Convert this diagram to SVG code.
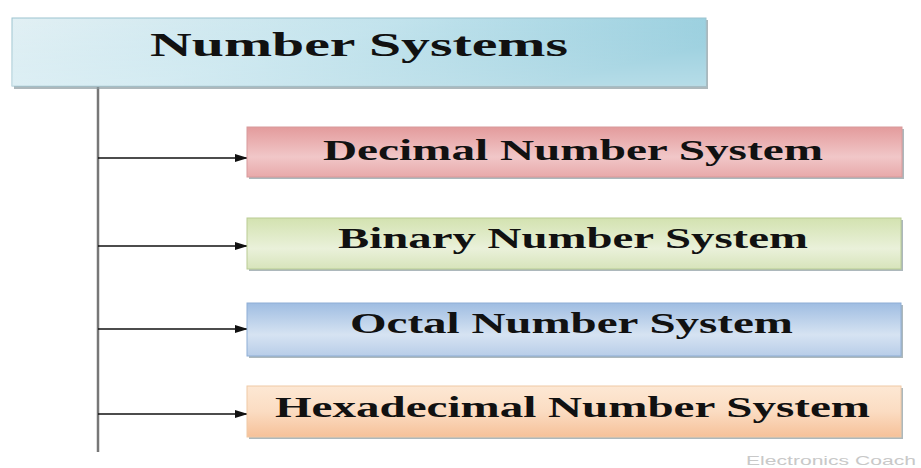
<svg xmlns="http://www.w3.org/2000/svg" width="921" height="468" viewBox="0 0 921 468">
<style>
.lbl{font-family:"Liberation Serif","Times New Roman",serif;font-weight:bold;fill:#111;}
.conn{stroke:#111;stroke-width:1.5;fill:none;}
.shadow{fill:#8a9aa0;opacity:0.7;}
</style>
<defs>
<marker id="ah" markerWidth="13" markerHeight="8" refX="12" refY="4" orient="auto" markerUnits="userSpaceOnUse">
<path d="M0,0 L13,4 L0,8 Z" fill="#111"/>
</marker>
<linearGradient id="gTitle" x1="0" y1="0" x2="1" y2="0.4">
<stop offset="0" stop-color="#e2f0f4"/>
<stop offset="0.5" stop-color="#c0e2ec"/>
<stop offset="1" stop-color="#8fcadb"/>
</linearGradient>
<linearGradient id="gTitleV" x1="0" y1="0" x2="0" y2="1">
<stop offset="0" stop-color="#ffffff" stop-opacity="0"/>
<stop offset="1" stop-color="#ffffff" stop-opacity="0.35"/>
</linearGradient>
<linearGradient id="gDec" x1="0" y1="0" x2="0" y2="1">
<stop offset="0" stop-color="#e39b9c"/>
<stop offset="0.6" stop-color="#f1c7c8"/>
<stop offset="1" stop-color="#e8a9aa"/>
</linearGradient>
<linearGradient id="gBin" x1="0" y1="0" x2="0" y2="1">
<stop offset="0" stop-color="#d3e2b0"/>
<stop offset="0.6" stop-color="#eaf1da"/>
<stop offset="1" stop-color="#d7e4bb"/>
</linearGradient>
<linearGradient id="gOct" x1="0" y1="0" x2="0" y2="1">
<stop offset="0" stop-color="#9fbde2"/>
<stop offset="0.6" stop-color="#d6e3f2"/>
<stop offset="1" stop-color="#b8cde8"/>
</linearGradient>
<linearGradient id="gHex" x1="0" y1="0" x2="0" y2="1">
<stop offset="0" stop-color="#fde8d4"/>
<stop offset="0.5" stop-color="#fbdcc2"/>
<stop offset="1" stop-color="#f6c199"/>
</linearGradient>
</defs>
<rect width="921" height="468" fill="#ffffff"/>

<g id="connectors">
<line x1="98" y1="87" x2="98" y2="452" stroke="#777" stroke-width="2.5"/>
<line class="conn" x1="98" y1="158" x2="247" y2="158" marker-end="url(#ah)"/>
<line class="conn" x1="98" y1="246" x2="247" y2="246" marker-end="url(#ah)"/>
<line class="conn" x1="98" y1="329" x2="247" y2="329" marker-end="url(#ah)"/>
<line class="conn" x1="98" y1="414" x2="247" y2="414" marker-end="url(#ah)"/>
</g>

<g id="title">
<rect class="shadow" x="14" y="20" width="694" height="69"/>
<rect x="12" y="18" width="694" height="68" fill="url(#gTitle)" stroke="#9cc4d0" stroke-width="1"/>
<rect x="12" y="18" width="694" height="68" fill="url(#gTitleV)"/>
<text class="lbl" x="150" y="56" font-size="34" textLength="418" lengthAdjust="spacingAndGlyphs">Number Systems</text>
</g>

<g id="decimal">
<rect class="shadow" x="249" y="129" width="655" height="50"/>
<rect x="247" y="127" width="655" height="50" fill="url(#gDec)" stroke="#d89a9b" stroke-width="1"/>
<text class="lbl" x="323" y="160" font-size="29" textLength="500" lengthAdjust="spacingAndGlyphs">Decimal Number System</text>
</g>

<g id="binary">
<rect class="shadow" x="249" y="220" width="654" height="51"/>
<rect x="247" y="218" width="654" height="51" fill="url(#gBin)" stroke="#b9cc94" stroke-width="1"/>
<text class="lbl" x="338" y="248" font-size="29" textLength="470" lengthAdjust="spacingAndGlyphs">Binary Number System</text>
</g>

<g id="octal">
<rect class="shadow" x="249" y="305" width="654" height="53"/>
<rect x="247" y="303" width="654" height="53" fill="url(#gOct)" stroke="#8eaed6" stroke-width="1"/>
<text class="lbl" x="350" y="333" font-size="29" textLength="443" lengthAdjust="spacingAndGlyphs">Octal Number System</text>
</g>

<g id="hexadecimal">
<rect class="shadow" x="249" y="388" width="654" height="51"/>
<rect x="247" y="386" width="654" height="51" fill="url(#gHex)" stroke="#f0c9a6" stroke-width="1"/>
<text class="lbl" x="275" y="417" font-size="29" textLength="595" lengthAdjust="spacingAndGlyphs">Hexadecimal Number System</text>
</g>

<text x="746" y="465" font-family="'Liberation Sans',Arial,sans-serif" font-size="13" fill="#c8c8c8" textLength="170" lengthAdjust="spacingAndGlyphs">Electronics Coach</text>
</svg>
